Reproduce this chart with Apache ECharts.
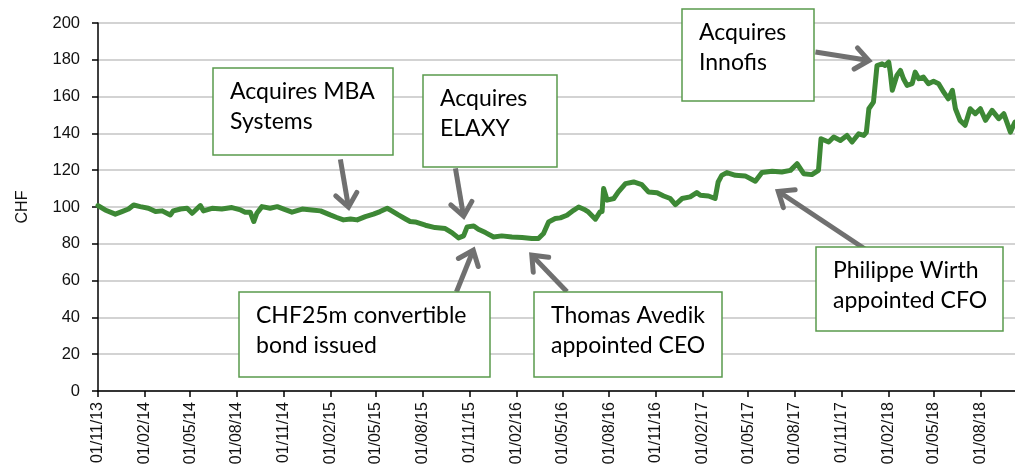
<!DOCTYPE html>
<html>
<head>
<meta charset="utf-8">
<script src="https://cdn.jsdelivr.net/npm/echarts@6/dist/echarts.min.js"></script>
<style>
    html, body { margin: 0; padding: 0; background: #fff; }
    #chart { width: 1015px; height: 468px; }
</style>
</head>
<body>
<div id="chart"></div>
<script>
// share price, CHF
const dates = [
    "2013-11-01", "2013-11-15", "2013-12-05", "2013-12-18", "2013-12-31", "2014-01-10", "2014-01-23", "2014-02-08",
    "2014-02-22", "2014-03-07", "2014-03-23", "2014-03-29", "2014-04-12", "2014-04-25", "2014-05-05", "2014-05-21",
    "2014-05-27", "2014-06-13", "2014-07-02", "2014-07-22", "2014-08-08", "2014-08-17", "2014-08-27", "2014-09-03",
    "2014-09-09", "2014-09-19", "2014-10-05", "2014-10-19", "2014-11-01", "2014-11-17", "2014-12-07", "2014-12-26",
    "2015-01-12", "2015-01-31", "2015-02-13", "2015-02-26", "2015-03-12", "2015-03-25", "2015-04-10", "2015-04-26",
    "2015-05-09", "2015-05-23", "2015-06-01", "2015-06-14", "2015-06-28", "2015-07-07", "2015-07-17", "2015-08-06",
    "2015-08-25", "2015-09-14", "2015-09-27", "2015-10-10", "2015-10-20", "2015-10-27", "2015-11-09", "2015-11-18",
    "2015-12-02", "2015-12-18", "2016-01-03", "2016-01-23", "2016-02-12", "2016-03-02", "2016-03-15", "2016-03-25",
    "2016-04-04", "2016-04-17", "2016-04-27", "2016-05-10", "2016-05-23", "2016-06-02", "2016-06-12", "2016-06-21",
    "2016-07-05", "2016-07-14", "2016-07-18", "2016-07-21", "2016-07-28", "2016-08-10", "2016-08-19", "2016-09-02",
    "2016-09-18", "2016-10-04", "2016-10-17", "2016-11-03", "2016-11-16", "2016-11-29", "2016-12-09", "2016-12-22",
    "2017-01-07", "2017-01-20", "2017-01-27", "2017-02-12", "2017-02-25", "2017-03-03", "2017-03-10", "2017-03-20",
    "2017-04-06", "2017-04-25", "2017-05-15", "2017-05-28", "2017-06-17", "2017-07-06", "2017-07-23", "2017-08-05",
    "2017-08-18", "2017-09-03", "2017-09-16", "2017-09-21", "2017-10-06", "2017-10-16", "2017-10-29", "2017-11-11",
    "2017-11-21", "2017-12-04", "2017-12-14", "2017-12-19", "2017-12-24", "2018-01-02", "2018-01-09", "2018-01-19",
    "2018-01-25", "2018-02-01", "2018-02-04", "2018-02-08", "2018-02-17", "2018-02-24", "2018-03-02", "2018-03-09",
    "2018-03-19", "2018-03-25", "2018-04-01", "2018-04-10", "2018-04-20", "2018-04-30", "2018-05-10", "2018-05-20",
    "2018-05-29", "2018-06-06", "2018-06-12", "2018-06-21", "2018-07-01", "2018-07-11", "2018-07-21", "2018-07-31",
    "2018-08-10", "2018-08-23", "2018-09-05", "2018-09-15", "2018-09-28", "2018-10-07"
];
const prices = [
    100.8, 98.4, 96.1, 97.5, 98.9, 101.1, 100.2, 99.3,
    97.5, 97.9, 95.7, 97.9, 98.9, 99.3, 96.6, 100.8,
    97.9, 99.3, 98.9, 99.7, 98.4, 97.2, 97.2, 92.1,
    96.6, 100.2, 99.3, 100.2, 98.9, 97.2, 98.9, 98.4,
    97.9, 95.7, 94.3, 93.0, 93.5, 93.0, 94.8, 96.1,
    97.5, 99.3, 97.9, 95.7, 93.5, 92.1, 91.9, 90.1,
    88.8, 88.3, 86.1, 83.2, 84.3, 89.2, 89.7, 87.9,
    86.1, 83.7, 84.3, 83.7, 83.4, 82.9, 82.9, 85.6,
    91.9, 93.7, 94.1, 95.5, 98.2, 100.0, 98.8, 97.3,
    93.4, 97.3, 97.5, 110.0, 103.7, 104.6, 108.2, 112.7,
    113.6, 112.2, 108.2, 107.8, 106.0, 104.6, 101.3, 104.6,
    105.5, 107.8, 106.4, 106.0, 104.6, 113.6, 117.2, 118.7,
    117.2, 116.9, 114.0, 118.7, 119.4, 119.0, 119.9, 123.5,
    118.1, 117.6, 119.9, 137.1, 135.3, 138.0, 136.2, 138.9,
    135.3, 139.8, 138.9, 140.5, 153.4, 157.0, 176.9, 177.8,
    176.9, 178.7, 173.3, 163.4, 171.5, 174.2, 169.7, 166.1,
    167.0, 173.3, 169.7, 170.6, 167.0, 168.3, 167.0, 162.4,
    158.8, 163.4, 153.4, 147.1, 144.4, 153.4, 150.7, 153.4,
    147.1, 152.5, 148.0, 150.7, 140.7, 146.2
];

const tickDates = [
    "2013-11-01", "2014-02-01", "2014-05-01", "2014-08-01", "2014-11-01",
    "2015-02-01", "2015-05-01", "2015-08-01", "2015-11-01",
    "2016-02-01", "2016-05-01", "2016-08-01", "2016-11-01",
    "2017-02-01", "2017-05-01", "2017-08-01", "2017-11-01",
    "2018-02-01", "2018-05-01", "2018-08-01"
];

// events: text plus arrow tail / head in chart coordinates [date, CHF]
const events = [
    { text: "Acquires MBA\nSystems", from: ["2015-02-20", 125.9], to: ["2015-03-08", 99.9] },
    { text: "Acquires\nELAXY", from: ["2015-10-04", 121.0], to: ["2015-10-20", 95.0] },
    { text: "Acquires\nInnofis", from: ["2017-09-10", 184.2], to: ["2017-12-24", 179.6] },
    { text: "CHF25m convertible\nbond issued", from: ["2015-10-06", 53.9], to: ["2015-11-08", 76.5] },
    { text: "Thomas Avedik\nappointed CEO", from: ["2016-05-10", 53.9], to: ["2016-03-02", 73.8] },
    { text: "Philippe Wirth\nappointed CFO", from: ["2017-12-20", 76.5], to: ["2017-06-29", 108.5] }
];
// box layout on the page: x, y, w, h
const boxes = [
    [213, 68, 180, 87],
    [423, 75, 134, 92],
    [682, 9, 132, 92],
    [239, 292, 251, 85],
    [534, 292, 188, 85],
    [816, 247, 187, 84]
];

function ts(s) {
    const p = s.split("-").map(Number);
    return new Date(p[0], p[1] - 1, p[2]).getTime();
}
function pad(n) {
    return (n < 10 ? "0" : "") + n;
}

const chart = echarts.init(document.getElementById("chart"));
const ticks = tickDates.map(ts);

chart.setOption({
    animation: false,
    grid: { left: 98, top: 23, right: 0, bottom: 77, containLabel: false, outerBoundsMode: "none" },
    xAxis: {
        type: "value",
        min: ts("2013-11-01"),
        max: ts("2018-10-07"),
        axisLine: { onZero: false, lineStyle: { color: "#000", width: 1.5 } },
        axisTick: { show: true, customValues: ticks, length: 6, lineStyle: { color: "#000", width: 1.5 } },
        axisLabel: {
            customValues: ticks,
            rotate: 90,
            margin: 11,
            color: "#111",
            fontFamily: "Liberation Sans",
            fontSize: 16,
            formatter: (v) => {
                const d = new Date(v);
                return pad(d.getDate()) + "/" + pad(d.getMonth() + 1) + "/" + String(d.getFullYear()).slice(2);
            },
        },
        splitLine: { show: false },
    },
    yAxis: {
        type: "value",
        min: 0,
        max: 200,
        interval: 20,
        name: "CHF",
        nameLocation: "middle",
        nameGap: 67,
        nameTextStyle: { color: "#111", fontFamily: "Liberation Sans", fontSize: 16 },
        axisLine: { show: true, lineStyle: { color: "#000", width: 1.5 } },
        axisTick: { show: true, length: 6, lineStyle: { color: "#000", width: 1.5 } },
        axisLabel: { color: "#111", fontFamily: "Liberation Sans", fontSize: 16.5, margin: 18 },
        splitLine: { lineStyle: { color: "#c4c4c4", width: 1.5 } },
    },
    series: [
        {
            type: "line",
            data: dates.map((d, i) => [ts(d), prices[i]]),
            showSymbol: false,
            lineStyle: { color: "#3d8835", width: 5, join: "round", cap: "round" },
            itemStyle: { color: "#3d8835" },
            z: 3,
        },
    ],
});

// annotation boxes and arrows, placed through the chart's own scales
const graphic = [];
events.forEach((ev, i) => {
    const b = boxes[i];
    const a = chart.convertToPixel({ xAxisIndex: 0, yAxisIndex: 0 }, [ts(ev.from[0]), ev.from[1]]);
    const t = chart.convertToPixel({ xAxisIndex: 0, yAxisIndex: 0 }, [ts(ev.to[0]), ev.to[1]]);
    const ang = Math.atan2(t[1] - a[1], t[0] - a[0]);
    const head = 17;
    const spread = 0.68;
    graphic.push({
        type: "line",
        shape: { x1: a[0], y1: a[1], x2: t[0] - Math.cos(ang) * 3, y2: t[1] - Math.sin(ang) * 3 },
        style: { stroke: "#707070", lineWidth: 5 },
        z: 20,
    });
    graphic.push({
        type: "polyline",
        shape: {
            points: [
                [t[0] - head * Math.cos(ang - spread), t[1] - head * Math.sin(ang - spread)],
                [t[0], t[1]],
                [t[0] - head * Math.cos(ang + spread), t[1] - head * Math.sin(ang + spread)],
            ],
        },
        style: { stroke: "#707070", lineWidth: 5, lineJoin: "miter", lineCap: "round", fill: null },
        z: 20,
    });
    graphic.push({
        type: "rect",
        shape: { x: b[0], y: b[1], width: b[2], height: b[3] },
        style: { fill: "#fff", stroke: "#5a9a4c", lineWidth: 1.5 },
        z: 30,
    });
    graphic.push({
        type: "text",
        x: b[0] + 17,
        y: b[1] + 9,
        style: {
            text: ev.text,
            fill: "#000",
            font: "23px Lato",
            lineHeight: 30,
            verticalAlign: "top",
        },
        z: 31,
    });
});
chart.setOption({ graphic: graphic });
</script>
</body>
</html>
